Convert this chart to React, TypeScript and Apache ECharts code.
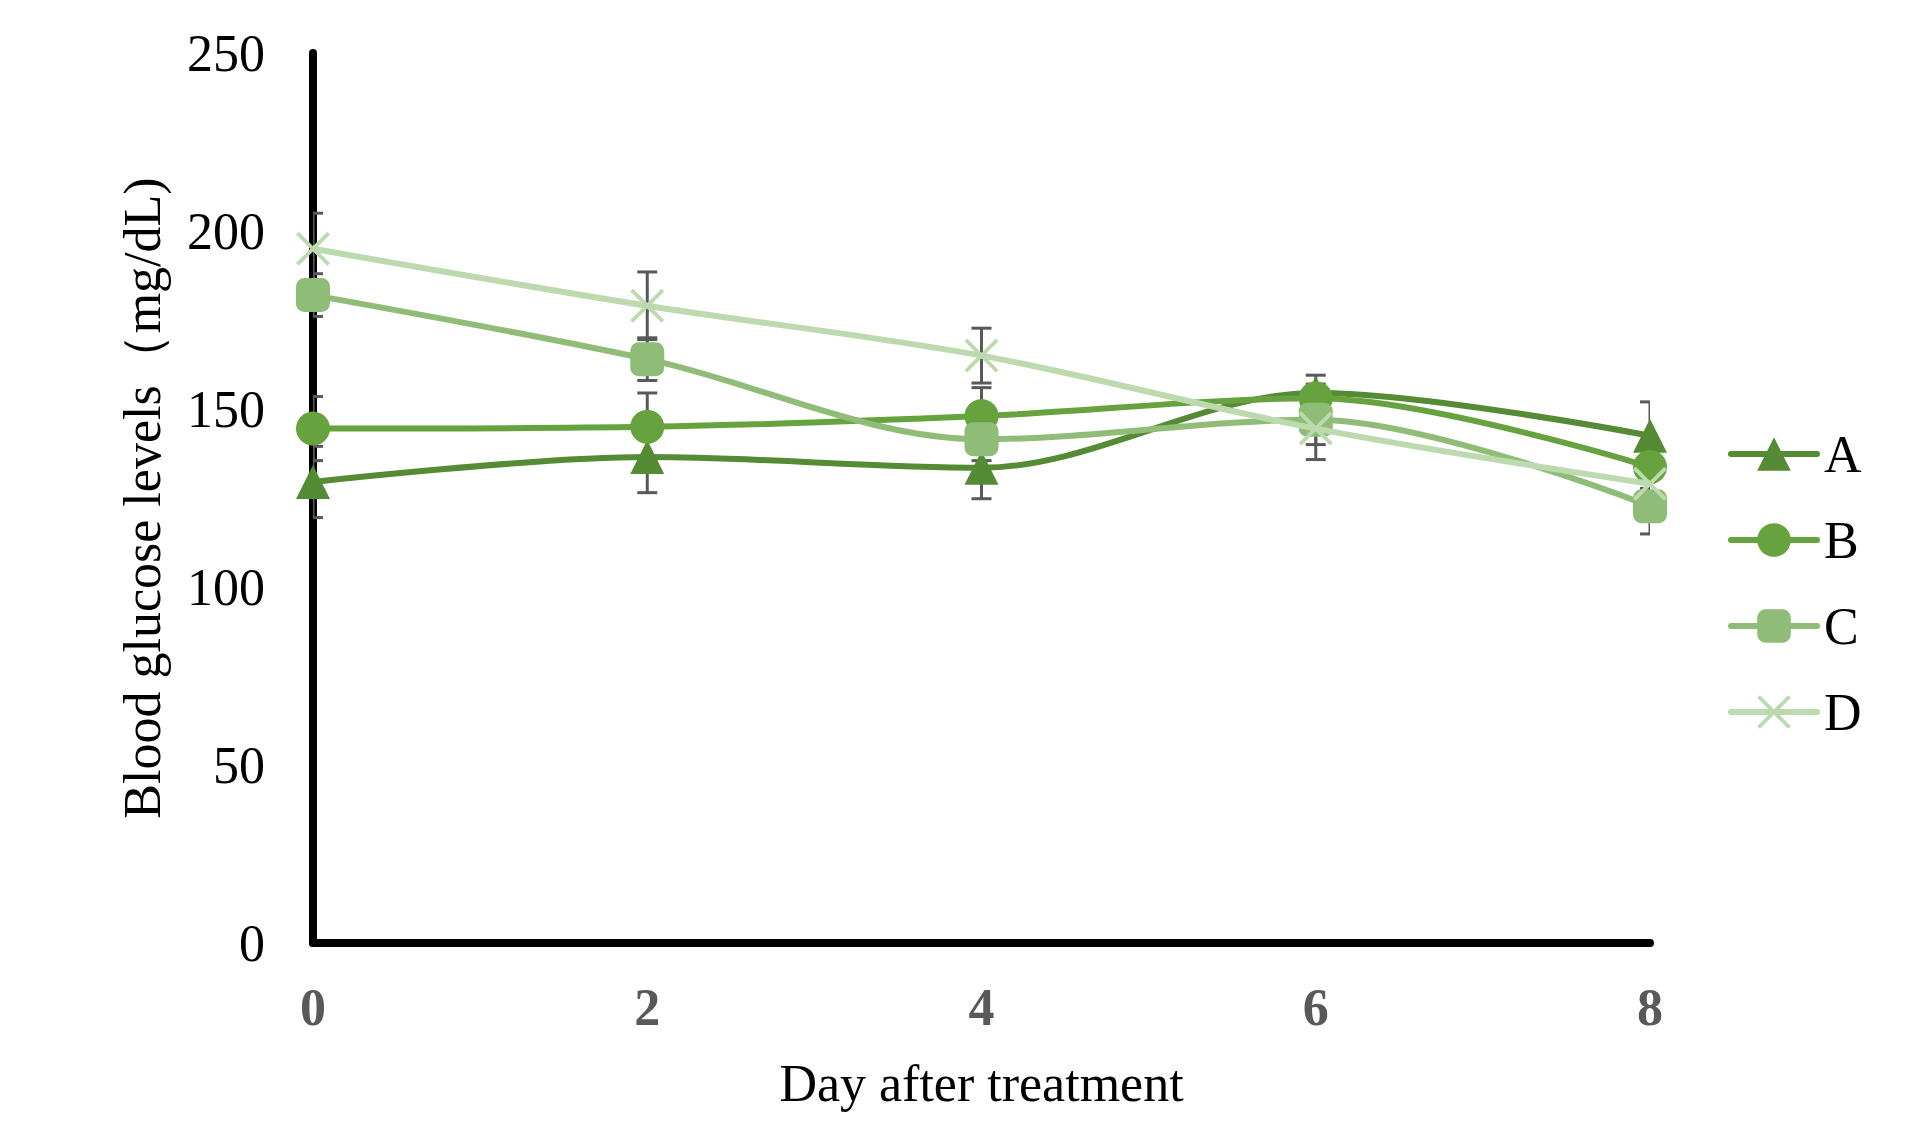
import React, { useEffect, useRef } from "react";
import * as echarts from "echarts";

const days = [0, 2, 4, 6, 8];
const seriesNames = ["A", "B", "C", "D"];
const valuesA = [129.5, 136.5, 133.5, 154.5, 142.5];
const valuesB = [144.5, 145, 148, 153, 133.7];
const valuesC = [182, 164, 141.5, 147, 122.7];
const valuesD = [195, 179, 165, 144.5, 129];
const errA = [10, 10, 8.7, 5, 9.5];
const errB = [9, 9.5, 8, 4, 6];
const errC = [6, 6, 6, 7, 7.8];
const errD = [10, 9.5, 7.7, 8.7, 6];
const yTicks = [0, 50, 100, 150, 200, 250];
const xTicks = [0, 2, 4, 6, 8];

const colors = ["#548b34", "#66a33e", "#8fbd77", "#bddaae"];
const symbols = [
  "triangle",
  "circle",
  "roundRect",
  "path://M0,8 L8,0 L50,42 L92,0 L100,8 L58,50 L100,92 L92,100 L50,58 L8,100 L0,92 L42,50 Z",
];

const FONT = "'Liberation Serif', 'Times New Roman', serif";

export default function App() {
  const ref = useRef<HTMLDivElement>(null);
  useEffect(() => {
    if (!ref.current) return;
    const chart = echarts.init(ref.current, undefined, { renderer: "svg" });
    const allValues = [valuesA, valuesB, valuesC, valuesD];
    const allErr = [errA, errB, errC, errD];

    const lineSeries = seriesNames.map((name, i) => ({
      name,
      type: "line",
      data: days.map((d, j) => [d, allValues[i][j]]),
      smooth: 0.33,
      symbol: symbols[i],
      symbolSize: 34,
      showAllSymbol: true,
      lineStyle: { color: colors[i], width: 6 },
      itemStyle: { color: colors[i] },
      z: 2 + i * 0.1,
    }));

    const errData: number[][] = [];
    allValues.forEach((vals, i) => {
      vals.forEach((v, j) => {
        errData.push([days[j], v, allErr[i][j]]);
      });
    });

    const errSeries = {
      type: "custom",
      name: "err",
      clip: true,
      z: 1,
      silent: true,
      data: errData,
      encode: { x: 0, y: 1 },
      renderItem: (params: any, api: any) => {
        const x = api.value(0);
        const y = api.value(1);
        const e = api.value(2);
        const top = api.coord([x, y + e]);
        const bot = api.coord([x, y - e]);
        const hw = 10;
        const style = { stroke: "#595959", lineWidth: 3 };
        return {
          type: "group",
          children: [
            { type: "line", shape: { x1: top[0], y1: top[1], x2: bot[0], y2: bot[1] }, style },
            { type: "line", shape: { x1: top[0] - hw, y1: top[1], x2: top[0] + hw, y2: top[1] }, style },
            { type: "line", shape: { x1: bot[0] - hw, y1: bot[1], x2: bot[0] + hw, y2: bot[1] }, style },
          ],
        };
      },
    };

    chart.setOption({
      animation: false,
      backgroundColor: "#ffffff",
      grid: { left: 313, right: 263, top: 53, bottom: 187, containLabel: false },
      xAxis: {
        type: "value",
        min: 0,
        max: 8,
        interval: 2,
        name: "Day after treatment",
        nameLocation: "middle",
        nameGap: 114,
        nameTextStyle: { fontFamily: FONT, fontSize: 52, color: "#000" },
        axisLine: { show: true, onZero: false, lineStyle: { color: "#000", width: 8 } },
        axisTick: { show: false },
        splitLine: { show: false },
        axisLabel: {
          fontFamily: FONT,
          fontSize: 52,
          fontWeight: "bold",
          color: "#595959",
          margin: 38,
          formatter: (v: number) => (xTicks.includes(v) ? String(v) : ""),
        },
      },
      yAxis: {
        type: "value",
        min: 0,
        max: 250,
        interval: 50,
        name: "Blood glucose levels（mg/dL)",
        nameLocation: "middle",
        nameGap: 145,
        nameTextStyle: { fontFamily: FONT, fontSize: 52, color: "#000" },
        axisLine: { show: true, lineStyle: { color: "#000", width: 8 } },
        axisTick: { show: false },
        splitLine: { show: false },
        axisLabel: {
          fontFamily: FONT,
          fontSize: 52,
          color: "#000",
          margin: 48,
          formatter: (v: number) => (yTicks.includes(v) ? String(v) : ""),
        },
      },
      legend: {
        data: seriesNames,
        orient: "vertical",
        left: 1723,
        top: 423,
        itemWidth: 86,
        itemHeight: 42,
        itemGap: 34,
        lineStyle: { width: 6, cap: "round" },
        textStyle: { fontFamily: FONT, fontSize: 52, color: "#000", padding: [0, 0, 0, 2] },
      },
      series: [errSeries, ...lineSeries],
    });
    return () => chart.dispose();
  }, []);
  return (
    <div
      ref={ref}
      style={{ position: "fixed", left: 0, top: 0, width: 1913, height: 1130 }}
    />
  );
}
